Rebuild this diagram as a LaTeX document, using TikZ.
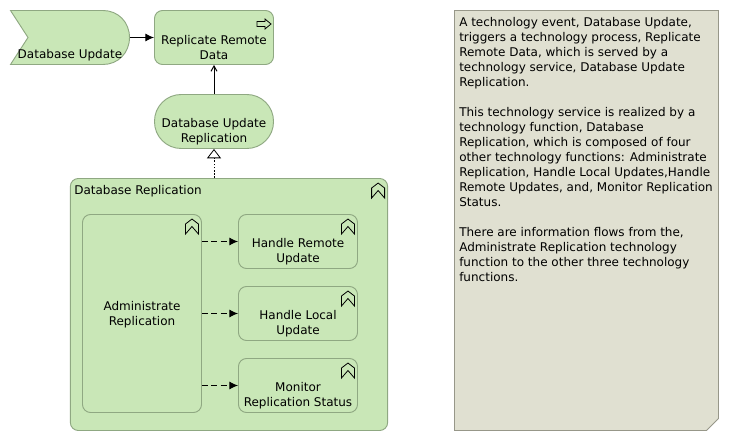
\documentclass[tikz,border=0pt]{standalone}
\usepackage{fontspec}
\setmainfont{DejaVu Sans}
\usetikzlibrary{arrows.meta}
\definecolor{techfill}{HTML}{C9E7B7}
\definecolor{techline}{HTML}{8FA882}
\definecolor{notefill}{HTML}{E0E0D1}
\definecolor{noteline}{HTML}{979789}
\tikzset{
  labelfont/.style={font=\fontsize{9}{11.25}\selectfont},
  techshape/.style={draw=techline,fill=techfill,line width=0.7pt},
  techbox/.style={techshape,rounded corners=6pt,minimum width=89.25pt,minimum height=40.5pt,inner sep=0pt,align=center,labelfont},
  techpill/.style={techbox,rounded corners=20pt},
  iconline/.style={draw=black,line width=0.6pt,line join=miter},
  trigger/.style={-{Latex[length=6.5pt,width=6pt]},line width=0.75pt},
  serving/.style={-{Straight Barb[length=4pt,width=4.5pt]},line width=0.75pt},
  realize/.style={-{Triangle[open,fill=white,length=7pt,width=10.5pt]},dash pattern=on 1.2pt off 1.2pt,line width=0.6pt},
  flow/.style={-{Latex[length=6.5pt,width=6pt]},dash pattern=on 4.5pt off 2.5pt,line width=0.75pt},
  funcicon/.pic={
    \draw[iconline] (-3.5,10) -- (-3.5,20) -- (-10,12.5) -- (-16.5,20) -- (-16.5,10) -- (-10,5) -- cycle;
  }
}
\begin{document}
\begin{tikzpicture}[x=0.75pt,y=-0.75pt]
\useasboundingbox (0,0) rectangle (729,441);
% top row
\draw[techshape] (10.5,10.5) -- (103,10.5) .. controls (118,10.5) and (129.5,22) .. (129.5,37.5) .. controls (129.5,53) and (118,64.5) .. (103,64.5) -- (10.5,64.5) -- (28,37.5) -- cycle;
\node[minimum width=89.25pt,minimum height=40.5pt,inner sep=0pt,align=center,labelfont] (dbupdate) at (70,37.5) {\strut\\\strut\\[3pt]Database Update};
\node[techbox] (replicate) at (214,37.5) {\strut\\[3pt]Replicate Remote\\Data};
\draw[iconline] (257,21.5) -- (265,21.5) -- (265,19) -- (271,24) -- (265,29) -- (265,26.5) -- (257,26.5) -- cycle;
\node[techpill] (dbservice) at (214,121.5) {\strut\\[3pt]Database Update\\Replication};
% function with its parts
\node[techbox,minimum width=238pt,minimum height=189pt] (dbrepl) at (229,304.5) {};
\node[anchor=west,inner sep=0pt,labelfont] (dbrepltext) at (74,191) {Database Replication};
\pic at (dbrepl.north east) {funcicon};
\node[techbox,minimum height=148.5pt] (admin) at (142,313.5) {\rule{0pt}{9pt}Administrate\\Replication};
\pic at (admin.north east) {funcicon};
\node[techbox] (remote) at (298,241.5) {\strut\\[3pt]Handle Remote\\Update};
\pic at (remote.north east) {funcicon};
\node[techbox] (local) at (298,313.5) {\strut\\[3pt]Handle Local\\Update};
\pic at (local.north east) {funcicon};
\node[techbox] (monitor) at (298,385.5) {\strut\\[3pt]Monitor\\Replication Status};
\pic at (monitor.north east) {funcicon};
% relations
\draw[trigger] (dbupdate.east) -- (replicate.west);
\draw[serving] (dbservice.north) -- (replicate.south);
\draw[realize] (dbrepl.north -| dbservice.south) -- (dbservice.south);
\draw[flow] (admin.east |- remote.west) -- (remote.west);
\draw[flow] (admin.east |- local.west) -- (local.west);
\draw[flow] (admin.east |- monitor.west) -- (monitor.west);
% note
\draw[fill=notefill,draw=noteline,line width=0.7pt] (454.5,10.5) -- (718.5,10.5) -- (718.5,418.5) -- (706.5,430.5) -- (454.5,430.5) -- cycle;
\node[anchor=north west,inner sep=0pt,align=left,labelfont] (notetext) at (459,17.5) {A technology event, Database Update,\\
triggers a technology process, Replicate\\
Remote Data, which is served by a\\
technology service, Database Update\\
Replication.\\
\strut\\
This technology service is realized by a\\
technology function, Database\\
Replication, which is composed of four\\
other technology functions: Administrate\\
Replication, Handle Local Updates,Handle\\
Remote Updates, and, Monitor Replication\\
Status.\\
\strut\\
There are information flows from the,\\
Administrate Replication technology\\
function to the other three technology\\
functions.};
\end{tikzpicture}
\end{document}
